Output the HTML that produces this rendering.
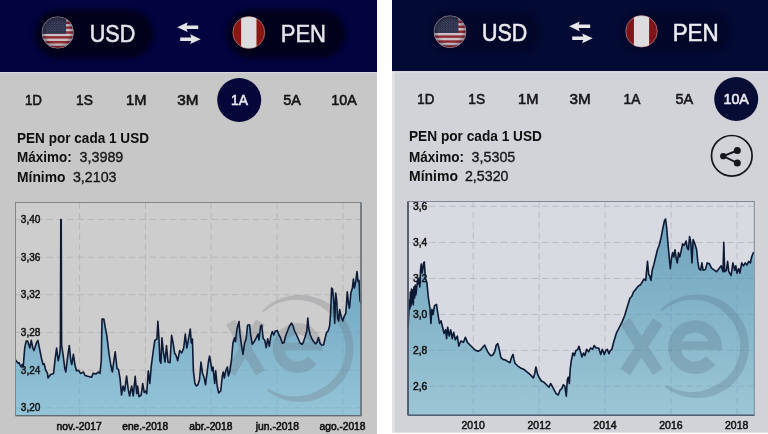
<!DOCTYPE html>
<html><head><meta charset="utf-8"><title>USD / PEN</title>
<style>
html,body{margin:0;padding:0;background:#fff;}
body{width:768px;height:434px;overflow:hidden;font-family:"Liberation Sans",sans-serif;}
svg{display:block;}
</style></head><body>
<svg width="768" height="434" viewBox="0 0 768 434" font-family="'Liberation Sans', sans-serif">
<defs>
<filter id="blur3" color-interpolation-filters="sRGB" x="-20%" y="-40%" width="140%" height="180%"><feGaussianBlur stdDeviation="2.5"/></filter>
<filter id="soft" color-interpolation-filters="sRGB" filterUnits="userSpaceOnUse" x="-10" y="-10" width="788" height="454"><feGaussianBlur stdDeviation="0.45"/></filter>
<linearGradient id="gl" gradientUnits="userSpaceOnUse" x1="0" y1="290" x2="0" y2="416"><stop offset="0" stop-color="#74aac5"/><stop offset="1" stop-color="#95c4d7"/></linearGradient>
<linearGradient id="gr" gradientUnits="userSpaceOnUse" x1="0" y1="225" x2="0" y2="415"><stop offset="0" stop-color="#70a5be"/><stop offset="1" stop-color="#9cc6d5"/></linearGradient>
</defs>
<rect width="768" height="434" fill="#ffffff"/>
<g filter="url(#soft)">
<rect x="-8" y="-8" width="385" height="450" fill="#c7c7c7"/>
<rect x="-8" y="-8" width="385" height="80" fill="#03033f"/>
<rect x="-8" y="72" width="385" height="1.2" fill="#d6d6de"/>
<rect x="34.5" y="10" width="119" height="48" rx="24" fill="#01011c" filter="url(#blur3)"/>
<rect x="226.5" y="10" width="119" height="48" rx="24" fill="#01011c" filter="url(#blur3)"/>
<clipPath id="cu1"><circle cx="57.8" cy="32.5" r="15.8"/></clipPath>
<pattern id="cu1s" x="42.0" y="16.7" width="2.6" height="2.4" patternUnits="userSpaceOnUse"><circle cx="0.7" cy="0.7" r="0.5" fill="#6c6e88"/><circle cx="2" cy="1.9" r="0.5" fill="#6c6e88"/></pattern>
<radialGradient id="cu1v" cx="0.5" cy="0.5" r="0.5"><stop offset="0.7" stop-color="#000010" stop-opacity="0"/><stop offset="1" stop-color="#000010" stop-opacity="0.35"/></radialGradient>
<g clip-path="url(#cu1)">
<rect x="42.0" y="16.7" width="31.6" height="31.6" fill="#cbbfc6"/>
<rect x="42.0" y="16.70" width="31.6" height="2.43" fill="#8e2a32"/>
<rect x="42.0" y="21.56" width="31.6" height="2.43" fill="#8e2a32"/>
<rect x="42.0" y="26.42" width="31.6" height="2.43" fill="#8e2a32"/>
<rect x="42.0" y="31.28" width="31.6" height="2.43" fill="#8e2a32"/>
<rect x="42.0" y="36.15" width="31.6" height="2.43" fill="#8e2a32"/>
<rect x="42.0" y="41.01" width="31.6" height="2.43" fill="#8e2a32"/>
<rect x="42.0" y="45.87" width="31.6" height="2.43" fill="#8e2a32"/>
<rect x="42.0" y="16.7" width="24.02" height="17.02" fill="#22253f"/>
<rect x="42.0" y="16.7" width="24.02" height="17.02" fill="url(#cu1s)"/>
<circle cx="57.8" cy="32.5" r="15.8" fill="url(#cu1v)"/>
</g>
<circle cx="57.8" cy="32.5" r="15.8" fill="none" stroke="#c9b4bc" stroke-opacity="0.5" stroke-width="0.8"/>
<clipPath id="cp1"><circle cx="248.8" cy="32.5" r="16"/></clipPath>
<g clip-path="url(#cp1)">
<rect x="232.8" y="16.5" width="32" height="32" fill="#8a1712"/>
<rect x="241.12" y="16.5" width="15.36" height="32" fill="#dcdcde"/>
</g>
<circle cx="248.8" cy="32.5" r="16" fill="none" stroke="#d9a0a0" stroke-opacity="0.7" stroke-width="0.8"/>
<text x="89.7" y="41.7" font-size="23.5" fill="#e3e3ea" font-weight="normal" text-anchor="start" textLength="45.6" lengthAdjust="spacingAndGlyphs" stroke="#e3e3ea" stroke-width="0.55" >USD</text>
<text x="280.7" y="42" font-size="23.5" fill="#e3e3ea" font-weight="normal" text-anchor="start" textLength="45.3" lengthAdjust="spacingAndGlyphs" stroke="#e3e3ea" stroke-width="0.55" >PEN</text>
<path d="M177.2,27.2 L187.7,22.299999999999997 L186.7,25.5 L198.2,25.5 L198.2,28.9 L186.7,28.9 L187.7,32.1 Z" fill="#e4e4e6"/>
<path d="M200.7,39.2 L190.2,34.300000000000004 L191.2,37.5 L180.2,37.5 L180.2,40.900000000000006 L191.2,40.900000000000006 L190.2,44.1 Z" fill="#e4e4e6"/>
<circle cx="239.2" cy="100" r="22" fill="#06063a"/>
<text x="24.95" y="105.3" font-size="15" fill="#141414" font-weight="normal" text-anchor="start" textLength="17.1" lengthAdjust="spacingAndGlyphs" stroke="#141414" stroke-width="0.6" >1D</text>
<text x="76.1" y="105.3" font-size="15" fill="#141414" font-weight="normal" text-anchor="start" textLength="16.8" lengthAdjust="spacingAndGlyphs" stroke="#141414" stroke-width="0.6" >1S</text>
<text x="126.10000000000001" y="105.3" font-size="15" fill="#141414" font-weight="normal" text-anchor="start" textLength="20.4" lengthAdjust="spacingAndGlyphs" stroke="#141414" stroke-width="0.6" >1M</text>
<text x="177.20000000000002" y="105.3" font-size="15" fill="#141414" font-weight="normal" text-anchor="start" textLength="21.2" lengthAdjust="spacingAndGlyphs" stroke="#141414" stroke-width="0.6" >3M</text>
<text x="231.1" y="105.3" font-size="15" fill="#e8e8ee" font-weight="normal" text-anchor="start" textLength="16.8" lengthAdjust="spacingAndGlyphs" stroke="#e8e8ee" stroke-width="0.6" >1A</text>
<text x="283.15" y="105.3" font-size="15" fill="#141414" font-weight="normal" text-anchor="start" textLength="17.7" lengthAdjust="spacingAndGlyphs" stroke="#141414" stroke-width="0.6" >5A</text>
<text x="331.3" y="105.3" font-size="15" fill="#141414" font-weight="normal" text-anchor="start" textLength="25.4" lengthAdjust="spacingAndGlyphs" stroke="#141414" stroke-width="0.6" >10A</text>
<text x="17" y="142.9" font-size="14.6" fill="#0e0e0e" font-weight="bold" text-anchor="start" textLength="132" lengthAdjust="spacingAndGlyphs" >PEN por cada 1 USD</text>
<text x="17" y="162.1" font-size="14.6" fill="#0e0e0e" font-weight="bold" text-anchor="start" textLength="54.7" lengthAdjust="spacingAndGlyphs" >Máximo:</text>
<text x="79.6" y="162.1" font-size="14.6" fill="#161616" font-weight="normal" text-anchor="start" textLength="43.7" lengthAdjust="spacingAndGlyphs" stroke="#161616" stroke-width="0.35" >3,3989</text>
<text x="17" y="181.8" font-size="14.6" fill="#0e0e0e" font-weight="bold" text-anchor="start" textLength="48.5" lengthAdjust="spacingAndGlyphs" >Mínimo</text>
<text x="72.9" y="181.8" font-size="14.6" fill="#161616" font-weight="normal" text-anchor="start" textLength="43.6" lengthAdjust="spacingAndGlyphs" stroke="#161616" stroke-width="0.35" >3,2103</text>
<rect x="15.5" y="202.5" width="345.5" height="213.2" fill="#cdcdcd" stroke="none"/>
<line x1="15.5" y1="219.5" x2="361" y2="219.5" stroke="#b7b7b7" stroke-width="1" stroke-dasharray="6.6,3.7"/>
<line x1="15.5" y1="257.2" x2="361" y2="257.2" stroke="#b7b7b7" stroke-width="1" stroke-dasharray="6.6,3.7"/>
<line x1="15.5" y1="294.8" x2="361" y2="294.8" stroke="#b7b7b7" stroke-width="1" stroke-dasharray="6.6,3.7"/>
<line x1="15.5" y1="332.4" x2="361" y2="332.4" stroke="#b7b7b7" stroke-width="1" stroke-dasharray="6.6,3.7"/>
<line x1="15.5" y1="370.1" x2="361" y2="370.1" stroke="#b7b7b7" stroke-width="1" stroke-dasharray="6.6,3.7"/>
<line x1="15.5" y1="407.8" x2="361" y2="407.8" stroke="#b7b7b7" stroke-width="1" stroke-dasharray="6.6,3.7"/>
<line x1="79.6" y1="202.5" x2="79.6" y2="415.7" stroke="#b7b7b7" stroke-width="1" stroke-dasharray="6.6,3.7"/>
<line x1="145.4" y1="202.5" x2="145.4" y2="415.7" stroke="#b7b7b7" stroke-width="1" stroke-dasharray="6.6,3.7"/>
<line x1="211.2" y1="202.5" x2="211.2" y2="415.7" stroke="#b7b7b7" stroke-width="1" stroke-dasharray="6.6,3.7"/>
<line x1="277.1" y1="202.5" x2="277.1" y2="415.7" stroke="#b7b7b7" stroke-width="1" stroke-dasharray="6.6,3.7"/>
<line x1="343" y1="202.5" x2="343" y2="415.7" stroke="#b7b7b7" stroke-width="1" stroke-dasharray="6.6,3.7"/>
<defs><path id="fpl" d="M15.6,360.0 L18.1,363.2 L19.1,362.7 L20.6,366.3 L22.2,364.5 L23.2,367.0 L24.7,348.0 L26.2,341.0 L27.7,341.0 L29.8,348.0 L31.3,340.4 L32.8,348.0 L34.0,350.6 L36.4,343.0 L37.9,340.4 L39.4,348.0 L41.4,358.0 L43.0,364.5 L44.2,363.7 L45.5,369.6 L47.5,373.4 L48.0,378.0 L50.6,374.6 L53.6,373.4 L55.1,359.4 L56.6,348.0 L58.2,360.7 L59.7,354.4 L60.4,345.0 L60.8,219.5 L61.2,219.5 L61.6,345.0 L63.2,355.6 L64.8,368.3 L65.8,372.0 L67.8,355.6 L69.3,345.5 L70.8,360.7 L71.8,364.5 L73.4,354.4 L74.9,364.5 L76.4,370.8 L78.4,370.3 L80.5,373.4 L83.5,372.1 L85.0,375.4 L88.6,376.4 L91.6,377.2 L93.1,373.4 L96.2,373.9 L98.2,372.0 L100.0,373.4 L101.3,360.7 L102.0,319.0 L103.8,319.0 L105.3,327.7 L106.8,335.3 L108.9,353.0 L110.9,365.8 L112.4,372.0 L113.9,360.7 L115.2,351.8 L117.0,368.3 L118.5,369.6 L120.0,378.4 L121.5,395.0 L123.0,386.0 L124.6,391.0 L126.6,376.0 L128.1,388.6 L129.6,396.0 L131.7,386.0 L133.2,396.0 L135.2,376.4 L136.7,393.6 L137.6,386.0 L139.0,396.7 L141.2,395.0 L142.7,383.5 L144.2,392.4 L145.7,391.0 L146.7,393.6 L148.3,370.8 L149.8,383.5 L151.3,365.8 L153.3,350.6 L154.8,340.4 L156.9,339.0 L157.9,321.4 L158.9,337.9 L159.9,360.7 L160.9,363.2 L161.9,337.9 L163.5,353.0 L165.0,362.0 L166.5,345.5 L168.0,362.0 L170.0,362.7 L171.6,335.3 L173.1,343.0 L174.6,353.0 L176.1,355.6 L177.7,360.7 L179.7,350.6 L181.7,353.0 L183.7,348.0 L185.3,334.0 L186.8,348.0 L188.3,340.4 L190.3,329.0 L191.3,343.0 L192.4,339.0 L193.4,370.8 L194.9,383.5 L196.4,386.0 L197.9,384.8 L199.5,379.7 L201.0,362.0 L202.5,373.4 L204.0,377.2 L205.5,384.8 L207.0,373.4 L208.6,360.7 L209.6,356.0 L211.0,364.5 L212.1,370.8 L213.0,367.0 L214.7,383.5 L215.7,370.8 L217.2,386.0 L218.7,393.0 L220.7,391.0 L222.3,376.0 L223.3,372.0 L224.3,378.0 L225.8,370.8 L227.3,367.0 L228.4,376.0 L229.9,370.8 L231.4,360.7 L232.9,343.0 L234.4,337.9 L235.4,341.7 L237.0,329.0 L239.0,321.4 L240.0,334.0 L241.5,345.5 L243.0,354.4 L244.6,343.0 L246.1,339.0 L247.6,325.2 L249.6,324.7 L250.7,335.3 L252.2,344.2 L254.2,341.7 L256.2,337.9 L258.0,334.0 L259.0,340.0 L260.6,326.0 L261.7,325.0 L263.2,338.7 L264.7,340.0 L266.2,347.6 L267.7,338.7 L269.3,346.3 L270.8,336.2 L272.3,331.6 L273.8,335.0 L275.3,331.0 L277.4,330.6 L278.9,335.0 L280.4,337.5 L282.4,343.3 L284.0,342.5 L285.5,336.2 L287.5,331.0 L289.5,326.0 L291.6,323.0 L293.1,326.0 L294.6,331.0 L296.6,335.0 L298.2,338.7 L300.2,343.3 L302.2,344.3 L303.7,341.3 L305.3,336.2 L306.8,331.0 L307.8,318.0 L308.8,328.6 L310.3,335.0 L311.9,338.7 L313.4,341.3 L315.4,343.8 L316.9,342.5 L318.4,337.5 L320.0,343.3 L321.5,345.0 L323.5,345.0 L325.0,338.7 L326.6,332.4 L328.1,331.0 L329.6,326.0 L330.6,313.4 L331.6,288.0 L332.6,289.3 L333.7,300.7 L334.7,323.5 L335.7,293.0 L336.7,300.7 L337.7,318.4 L338.7,321.0 L339.7,309.6 L341.3,317.2 L342.8,321.0 L344.3,316.0 L345.8,313.4 L347.3,291.8 L348.4,303.2 L349.4,308.3 L350.9,293.0 L352.4,288.0 L353.4,279.0 L354.4,288.0 L355.5,283.0 L357.0,271.5 L358.0,281.7 L359.0,280.4 L360.0,300.7 L361.0,303.2 L361,415.7 L15.5,415.7 Z"/><clipPath id="cfl"><use href="#fpl"/></clipPath></defs>
<use href="#fpl" fill="url(#gl)"/>
<g clip-path="url(#cfl)" stroke="#5f8aa2" stroke-opacity="0.2" stroke-width="1" stroke-dasharray="6.6,3.7">
<line x1="15.5" y1="219.5" x2="361" y2="219.5"/>
<line x1="15.5" y1="257.2" x2="361" y2="257.2"/>
<line x1="15.5" y1="294.8" x2="361" y2="294.8"/>
<line x1="15.5" y1="332.4" x2="361" y2="332.4"/>
<line x1="15.5" y1="370.1" x2="361" y2="370.1"/>
<line x1="15.5" y1="407.8" x2="361" y2="407.8"/>
<line x1="79.6" y1="202.5" x2="79.6" y2="415.7"/>
<line x1="145.4" y1="202.5" x2="145.4" y2="415.7"/>
<line x1="211.2" y1="202.5" x2="211.2" y2="415.7"/>
<line x1="277.1" y1="202.5" x2="277.1" y2="415.7"/>
<line x1="343" y1="202.5" x2="343" y2="415.7"/>
</g>
<g opacity="0.23" fill="none" stroke="#66666e" stroke-linecap="butt">
<path d="M262.2,310.7 L265.2,307.9 L268.4,305.3 L271.8,303.1 L275.3,301.0 L279.0,299.3 L282.8,297.8 L286.8,296.7 L290.8,295.8 L294.8,295.3 L298.9,295.0 L303.0,295.1 L307.1,295.5 L311.1,296.2 L315.1,297.2 L319.0,298.5 L322.7,300.1 L326.4,301.9 L329.8,304.1 L333.1,306.5 L336.3,309.2 L339.2,312.0 L341.8,315.1 L344.3,318.4 L346.4,321.9 L348.3,325.5 L349.9,329.3 L351.3,333.2 L352.3,337.1 L353.0,341.2 L353.4,345.2 L353.5,349.3 L353.3,353.4 L352.7,357.5 L351.9,361.5 L350.8,365.4 L349.3,369.2 L347.6,372.9 L345.6,376.5 L343.3,379.9 L340.8,383.1 L338.0,386.1 L335.0,388.9 L331.8,391.5 L328.5,393.8 L324.9,395.8 L321.2,397.6 L317.4,399.1 L313.5,400.3 L309.5,401.2 L305.4,401.7 L301.4,402.0 L297.3,401.9 L293.2,401.6 L289.2,400.9 L285.2,399.9 L281.3,398.6 L277.5,397.0 L273.9,395.2 L270.4,393.1 L267.1,390.7 L268.5,388.8 L271.9,390.7 L275.4,392.4 L279.0,393.8 L282.7,394.9 L286.4,395.7 L290.1,396.2 L293.8,396.4 L297.5,396.3 L301.2,396.0 L304.8,395.4 L308.3,394.5 L311.7,393.3 L314.9,391.9 L318.0,390.3 L321.2,388.8 L324.2,387.0 L327.1,385.1 L329.8,382.9 L332.3,380.5 L334.7,377.9 L336.8,375.2 L338.8,372.3 L340.5,369.3 L341.9,366.1 L343.2,362.9 L344.1,359.5 L344.9,356.1 L345.3,352.7 L345.5,349.2 L345.4,345.7 L345.1,342.3 L344.5,338.8 L343.6,335.5 L342.5,332.2 L341.1,329.0 L339.5,325.9 L337.6,322.9 L335.6,320.1 L333.3,317.5 L330.9,314.9 L328.5,312.4 L325.8,310.1 L322.9,308.0 L319.9,306.1 L316.7,304.5 L313.4,303.0 L309.9,301.9 L306.3,300.9 L302.7,300.3 L299.0,299.9 L295.3,299.9 L291.5,300.1 L287.8,300.6 L284.1,301.4 L280.4,302.5 L276.8,303.8 L273.3,305.5 L269.9,307.4 L266.7,309.6 L263.6,312.1 Z" fill="#66666e" stroke="none"/>
<path d="M230.5,322 L260.5,373 M260.5,322 L230.5,373" stroke-width="10.5"/>
<path d="M316.6,350.3 A19.1,19.1 0 1 0 312.3,360.2" stroke-width="11.5"/>
<rect x="278.6" y="342.5" width="43.2" height="7.8" fill="#66666e" stroke="none"/>
</g>
<text x="20.8" y="222.9" font-size="10.3" fill="#111" font-weight="normal" text-anchor="start" textLength="19.6" lengthAdjust="spacingAndGlyphs" stroke="#111" stroke-width="0.45" >3,40</text>
<text x="20.8" y="260.59999999999997" font-size="10.3" fill="#111" font-weight="normal" text-anchor="start" textLength="19.6" lengthAdjust="spacingAndGlyphs" stroke="#111" stroke-width="0.45" >3,36</text>
<text x="20.8" y="298.2" font-size="10.3" fill="#111" font-weight="normal" text-anchor="start" textLength="19.6" lengthAdjust="spacingAndGlyphs" stroke="#111" stroke-width="0.45" >3,32</text>
<text x="20.8" y="335.79999999999995" font-size="10.3" fill="#111" font-weight="normal" text-anchor="start" textLength="19.6" lengthAdjust="spacingAndGlyphs" stroke="#111" stroke-width="0.45" >3,28</text>
<text x="20.8" y="373.5" font-size="10.3" fill="#111" font-weight="normal" text-anchor="start" textLength="19.6" lengthAdjust="spacingAndGlyphs" stroke="#111" stroke-width="0.45" >3,24</text>
<text x="20.8" y="411.2" font-size="10.3" fill="#111" font-weight="normal" text-anchor="start" textLength="19.6" lengthAdjust="spacingAndGlyphs" stroke="#111" stroke-width="0.45" >3,20</text>
<path d="M15.6,360.0 L18.1,363.2 L19.1,362.7 L20.6,366.3 L22.2,364.5 L23.2,367.0 L24.7,348.0 L26.2,341.0 L27.7,341.0 L29.8,348.0 L31.3,340.4 L32.8,348.0 L34.0,350.6 L36.4,343.0 L37.9,340.4 L39.4,348.0 L41.4,358.0 L43.0,364.5 L44.2,363.7 L45.5,369.6 L47.5,373.4 L48.0,378.0 L50.6,374.6 L53.6,373.4 L55.1,359.4 L56.6,348.0 L58.2,360.7 L59.7,354.4 L60.4,345.0 L60.8,219.5 L61.2,219.5 L61.6,345.0 L63.2,355.6 L64.8,368.3 L65.8,372.0 L67.8,355.6 L69.3,345.5 L70.8,360.7 L71.8,364.5 L73.4,354.4 L74.9,364.5 L76.4,370.8 L78.4,370.3 L80.5,373.4 L83.5,372.1 L85.0,375.4 L88.6,376.4 L91.6,377.2 L93.1,373.4 L96.2,373.9 L98.2,372.0 L100.0,373.4 L101.3,360.7 L102.0,319.0 L103.8,319.0 L105.3,327.7 L106.8,335.3 L108.9,353.0 L110.9,365.8 L112.4,372.0 L113.9,360.7 L115.2,351.8 L117.0,368.3 L118.5,369.6 L120.0,378.4 L121.5,395.0 L123.0,386.0 L124.6,391.0 L126.6,376.0 L128.1,388.6 L129.6,396.0 L131.7,386.0 L133.2,396.0 L135.2,376.4 L136.7,393.6 L137.6,386.0 L139.0,396.7 L141.2,395.0 L142.7,383.5 L144.2,392.4 L145.7,391.0 L146.7,393.6 L148.3,370.8 L149.8,383.5 L151.3,365.8 L153.3,350.6 L154.8,340.4 L156.9,339.0 L157.9,321.4 L158.9,337.9 L159.9,360.7 L160.9,363.2 L161.9,337.9 L163.5,353.0 L165.0,362.0 L166.5,345.5 L168.0,362.0 L170.0,362.7 L171.6,335.3 L173.1,343.0 L174.6,353.0 L176.1,355.6 L177.7,360.7 L179.7,350.6 L181.7,353.0 L183.7,348.0 L185.3,334.0 L186.8,348.0 L188.3,340.4 L190.3,329.0 L191.3,343.0 L192.4,339.0 L193.4,370.8 L194.9,383.5 L196.4,386.0 L197.9,384.8 L199.5,379.7 L201.0,362.0 L202.5,373.4 L204.0,377.2 L205.5,384.8 L207.0,373.4 L208.6,360.7 L209.6,356.0 L211.0,364.5 L212.1,370.8 L213.0,367.0 L214.7,383.5 L215.7,370.8 L217.2,386.0 L218.7,393.0 L220.7,391.0 L222.3,376.0 L223.3,372.0 L224.3,378.0 L225.8,370.8 L227.3,367.0 L228.4,376.0 L229.9,370.8 L231.4,360.7 L232.9,343.0 L234.4,337.9 L235.4,341.7 L237.0,329.0 L239.0,321.4 L240.0,334.0 L241.5,345.5 L243.0,354.4 L244.6,343.0 L246.1,339.0 L247.6,325.2 L249.6,324.7 L250.7,335.3 L252.2,344.2 L254.2,341.7 L256.2,337.9 L258.0,334.0 L259.0,340.0 L260.6,326.0 L261.7,325.0 L263.2,338.7 L264.7,340.0 L266.2,347.6 L267.7,338.7 L269.3,346.3 L270.8,336.2 L272.3,331.6 L273.8,335.0 L275.3,331.0 L277.4,330.6 L278.9,335.0 L280.4,337.5 L282.4,343.3 L284.0,342.5 L285.5,336.2 L287.5,331.0 L289.5,326.0 L291.6,323.0 L293.1,326.0 L294.6,331.0 L296.6,335.0 L298.2,338.7 L300.2,343.3 L302.2,344.3 L303.7,341.3 L305.3,336.2 L306.8,331.0 L307.8,318.0 L308.8,328.6 L310.3,335.0 L311.9,338.7 L313.4,341.3 L315.4,343.8 L316.9,342.5 L318.4,337.5 L320.0,343.3 L321.5,345.0 L323.5,345.0 L325.0,338.7 L326.6,332.4 L328.1,331.0 L329.6,326.0 L330.6,313.4 L331.6,288.0 L332.6,289.3 L333.7,300.7 L334.7,323.5 L335.7,293.0 L336.7,300.7 L337.7,318.4 L338.7,321.0 L339.7,309.6 L341.3,317.2 L342.8,321.0 L344.3,316.0 L345.8,313.4 L347.3,291.8 L348.4,303.2 L349.4,308.3 L350.9,293.0 L352.4,288.0 L353.4,279.0 L354.4,288.0 L355.5,283.0 L357.0,271.5 L358.0,281.7 L359.0,280.4 L360.0,300.7 L361.0,303.2" fill="none" stroke="#0e1a36" stroke-width="1.6" stroke-linejoin="round"/>
<rect x="15.5" y="202.5" width="345.5" height="213.2" fill="none" stroke="#858585" stroke-width="1"/>
<path d="M361,202.5 L361,415.7 L15.5,415.7" fill="none" stroke="#5e6a74" stroke-width="1.3"/>
<text x="56.6" y="429.7" font-size="10" fill="#111" font-weight="normal" text-anchor="start" textLength="45.3" lengthAdjust="spacingAndGlyphs" stroke="#111" stroke-width="0.55" >nov.-2017</text>
<text x="122.3" y="429.7" font-size="10" fill="#111" font-weight="normal" text-anchor="start" textLength="45.8" lengthAdjust="spacingAndGlyphs" stroke="#111" stroke-width="0.55" >ene.-2018</text>
<text x="189.3" y="429.7" font-size="10" fill="#111" font-weight="normal" text-anchor="start" textLength="43.1" lengthAdjust="spacingAndGlyphs" stroke="#111" stroke-width="0.55" >abr.-2018</text>
<text x="255.8" y="429.7" font-size="10" fill="#111" font-weight="normal" text-anchor="start" textLength="43.1" lengthAdjust="spacingAndGlyphs" stroke="#111" stroke-width="0.55" >jun.-2018</text>
<text x="319.6" y="429.7" font-size="10" fill="#111" font-weight="normal" text-anchor="start" textLength="45.8" lengthAdjust="spacingAndGlyphs" stroke="#111" stroke-width="0.55" >ago.-2018</text>
<rect x="392" y="-8" width="384" height="450" fill="#d1d3d9"/>
<rect x="392" y="-8" width="384" height="79.2" fill="#030a33"/>
<rect x="392" y="71.2" width="384" height="1.2" fill="#dfe0ea"/>
<rect x="432" y="11" width="108" height="42" rx="21" fill="#02072a" filter="url(#blur3)"/>
<rect x="622" y="11" width="108" height="42" rx="21" fill="#02072a" filter="url(#blur3)"/>
<clipPath id="cu2"><circle cx="450" cy="31.7" r="16"/></clipPath>
<pattern id="cu2s" x="434" y="15.7" width="2.6" height="2.4" patternUnits="userSpaceOnUse"><circle cx="0.7" cy="0.7" r="0.5" fill="#6c6e88"/><circle cx="2" cy="1.9" r="0.5" fill="#6c6e88"/></pattern>
<radialGradient id="cu2v" cx="0.5" cy="0.5" r="0.5"><stop offset="0.7" stop-color="#000010" stop-opacity="0"/><stop offset="1" stop-color="#000010" stop-opacity="0.35"/></radialGradient>
<g clip-path="url(#cu2)">
<rect x="434" y="15.7" width="32" height="32" fill="#cbbfc6"/>
<rect x="434" y="15.70" width="32" height="2.46" fill="#8e2a32"/>
<rect x="434" y="20.62" width="32" height="2.46" fill="#8e2a32"/>
<rect x="434" y="25.55" width="32" height="2.46" fill="#8e2a32"/>
<rect x="434" y="30.47" width="32" height="2.46" fill="#8e2a32"/>
<rect x="434" y="35.39" width="32" height="2.46" fill="#8e2a32"/>
<rect x="434" y="40.32" width="32" height="2.46" fill="#8e2a32"/>
<rect x="434" y="45.24" width="32" height="2.46" fill="#8e2a32"/>
<rect x="434" y="15.7" width="24.32" height="17.23" fill="#22253f"/>
<rect x="434" y="15.7" width="24.32" height="17.23" fill="url(#cu2s)"/>
<circle cx="450" cy="31.7" r="16" fill="url(#cu2v)"/>
</g>
<circle cx="450" cy="31.7" r="16" fill="none" stroke="#c9b4bc" stroke-opacity="0.5" stroke-width="0.8"/>
<clipPath id="cp2"><circle cx="641.5" cy="31.3" r="15.8"/></clipPath>
<g clip-path="url(#cp2)">
<rect x="625.7" y="15.5" width="31.6" height="31.6" fill="#7e151a"/>
<rect x="633.92" y="15.5" width="15.17" height="31.6" fill="#dcdcde"/>
</g>
<circle cx="641.5" cy="31.3" r="15.8" fill="none" stroke="#d9a0a0" stroke-opacity="0.7" stroke-width="0.8"/>
<text x="482" y="41.3" font-size="23.5" fill="#ececf2" font-weight="normal" text-anchor="start" textLength="45.2" lengthAdjust="spacingAndGlyphs" stroke="#ececf2" stroke-width="0.55" >USD</text>
<text x="672.7" y="41.1" font-size="23.5" fill="#ececf2" font-weight="normal" text-anchor="start" textLength="45.9" lengthAdjust="spacingAndGlyphs" stroke="#ececf2" stroke-width="0.55" >PEN</text>
<path d="M569.2,26.3 L579.7,21.4 L578.7,24.6 L590.2,24.6 L590.2,28.0 L578.7,28.0 L579.7,31.200000000000003 Z" fill="#e8e8ec"/>
<path d="M592.7,38.3 L582.2,33.4 L583.2,36.599999999999994 L572.2,36.599999999999994 L572.2,40.0 L583.2,40.0 L582.2,43.199999999999996 Z" fill="#e8e8ec"/>
<circle cx="736.2" cy="99" r="22" fill="#070c34"/>
<text x="417.34999999999997" y="104.4" font-size="15" fill="#15151a" font-weight="normal" text-anchor="start" textLength="17.1" lengthAdjust="spacingAndGlyphs" stroke="#15151a" stroke-width="0.6" >1D</text>
<text x="468.3" y="104.4" font-size="15" fill="#15151a" font-weight="normal" text-anchor="start" textLength="16.8" lengthAdjust="spacingAndGlyphs" stroke="#15151a" stroke-width="0.6" >1S</text>
<text x="518.0999999999999" y="104.4" font-size="15" fill="#15151a" font-weight="normal" text-anchor="start" textLength="20.4" lengthAdjust="spacingAndGlyphs" stroke="#15151a" stroke-width="0.6" >1M</text>
<text x="569.4" y="104.4" font-size="15" fill="#15151a" font-weight="normal" text-anchor="start" textLength="21.2" lengthAdjust="spacingAndGlyphs" stroke="#15151a" stroke-width="0.6" >3M</text>
<text x="623.6" y="104.4" font-size="15" fill="#15151a" font-weight="normal" text-anchor="start" textLength="16.8" lengthAdjust="spacingAndGlyphs" stroke="#15151a" stroke-width="0.6" >1A</text>
<text x="675.4499999999999" y="104.4" font-size="15" fill="#15151a" font-weight="normal" text-anchor="start" textLength="17.7" lengthAdjust="spacingAndGlyphs" stroke="#15151a" stroke-width="0.6" >5A</text>
<text x="723.5" y="104.4" font-size="15" fill="#ececf2" font-weight="normal" text-anchor="start" textLength="25.4" lengthAdjust="spacingAndGlyphs" stroke="#ececf2" stroke-width="0.6" >10A</text>
<text x="409" y="141.2" font-size="14.6" fill="#0e0e0e" font-weight="bold" text-anchor="start" textLength="133" lengthAdjust="spacingAndGlyphs" >PEN por cada 1 USD</text>
<text x="409" y="161.8" font-size="14.6" fill="#0e0e0e" font-weight="bold" text-anchor="start" textLength="55" lengthAdjust="spacingAndGlyphs" >Máximo:</text>
<text x="471.6" y="161.8" font-size="14.6" fill="#161616" font-weight="normal" text-anchor="start" textLength="43.7" lengthAdjust="spacingAndGlyphs" stroke="#161616" stroke-width="0.35" >3,5305</text>
<text x="409" y="181" font-size="14.6" fill="#0e0e0e" font-weight="bold" text-anchor="start" textLength="49" lengthAdjust="spacingAndGlyphs" >Mínimo</text>
<text x="464.9" y="181" font-size="14.6" fill="#161616" font-weight="normal" text-anchor="start" textLength="43.6" lengthAdjust="spacingAndGlyphs" stroke="#161616" stroke-width="0.35" >2,5320</text>
<circle cx="731.8" cy="155.8" r="20.3" fill="none" stroke="#15151c" stroke-width="1.7"/>
<path d="M723.2,156.2 L737.3,150.5 M723.2,156.2 L737.3,163" stroke="#15151c" stroke-width="1.9" fill="none"/>
<circle cx="723.2" cy="156.2" r="3.1" fill="#15151c"/>
<circle cx="737.3" cy="150.5" r="3.5" fill="#15151c"/>
<circle cx="737.3" cy="163" r="3.5" fill="#15151c"/>
<rect x="408" y="201.5" width="346.29999999999995" height="213.7" fill="#d8dae1"/>
<line x1="408" y1="206.3" x2="754.3" y2="206.3" stroke="#bbbec7" stroke-width="1" stroke-dasharray="6.6,3.7"/>
<line x1="408" y1="242.5" x2="754.3" y2="242.5" stroke="#bbbec7" stroke-width="1" stroke-dasharray="6.6,3.7"/>
<line x1="408" y1="278.5" x2="754.3" y2="278.5" stroke="#bbbec7" stroke-width="1" stroke-dasharray="6.6,3.7"/>
<line x1="408" y1="314.5" x2="754.3" y2="314.5" stroke="#bbbec7" stroke-width="1" stroke-dasharray="6.6,3.7"/>
<line x1="408" y1="350.3" x2="754.3" y2="350.3" stroke="#bbbec7" stroke-width="1" stroke-dasharray="6.6,3.7"/>
<line x1="408" y1="386.2" x2="754.3" y2="386.2" stroke="#bbbec7" stroke-width="1" stroke-dasharray="6.6,3.7"/>
<line x1="473.2" y1="201.5" x2="473.2" y2="415.2" stroke="#bbbec7" stroke-width="1" stroke-dasharray="6.6,3.7"/>
<line x1="539.2" y1="201.5" x2="539.2" y2="415.2" stroke="#bbbec7" stroke-width="1" stroke-dasharray="6.6,3.7"/>
<line x1="605.1" y1="201.5" x2="605.1" y2="415.2" stroke="#bbbec7" stroke-width="1" stroke-dasharray="6.6,3.7"/>
<line x1="671.1" y1="201.5" x2="671.1" y2="415.2" stroke="#bbbec7" stroke-width="1" stroke-dasharray="6.6,3.7"/>
<line x1="737" y1="201.5" x2="737" y2="415.2" stroke="#bbbec7" stroke-width="1" stroke-dasharray="6.6,3.7"/>
<defs><path id="fpr" d="M408.1,327.2 L408.8,312.0 L409.4,300.0 L409.9,309.0 L410.4,292.0 L411.0,306.0 L411.5,289.0 L412.1,303.0 L412.7,290.0 L413.3,305.0 L413.9,287.0 L414.6,298.0 L415.2,285.0 L415.9,295.0 L416.7,288.0 L417.4,281.0 L418.3,284.0 L419.0,278.0 L419.8,287.0 L420.5,270.0 L421.3,264.0 L422.0,273.0 L422.8,269.0 L423.6,263.0 L424.3,262.0 L424.9,271.0 L425.3,277.7 L426.9,282.8 L428.4,298.0 L429.9,308.0 L430.9,323.4 L431.9,309.4 L433.0,314.5 L434.5,305.6 L436.5,304.4 L438.0,314.5 L439.5,323.4 L441.0,320.8 L442.6,327.2 L444.1,333.5 L445.6,329.7 L446.6,338.6 L447.7,327.2 L449.2,336.0 L450.7,329.7 L452.2,338.6 L453.7,332.2 L455.3,339.8 L457.3,336.0 L458.8,346.2 L460.8,341.0 L463.4,342.4 L465.4,337.3 L467.4,342.4 L470.0,345.0 L472.5,347.5 L475.0,350.0 L478.0,351.3 L480.6,350.0 L482.6,347.5 L484.7,345.0 L486.2,348.7 L488.2,352.5 L490.7,355.8 L492.8,355.0 L494.8,351.3 L496.3,345.0 L497.8,343.7 L499.4,350.0 L500.9,357.6 L502.9,359.4 L505.4,360.0 L507.5,361.4 L510.0,362.7 L511.5,357.6 L513.0,354.4 L514.0,359.4 L515.0,363.2 L517.6,365.8 L521.2,368.3 L524.2,369.6 L527.2,372.1 L530.3,374.6 L533.3,378.0 L534.8,373.4 L535.9,367.0 L537.4,373.4 L538.9,377.2 L541.4,381.0 L544.0,382.2 L546.5,384.8 L549.0,387.3 L550.6,383.5 L552.1,386.0 L554.1,389.8 L556.1,393.6 L558.2,395.0 L560.2,389.8 L561.7,388.6 L563.2,384.8 L564.8,386.0 L566.3,396.2 L567.3,379.7 L568.3,377.2 L569.3,383.5 L570.3,368.3 L571.3,360.7 L572.9,353.0 L574.4,355.6 L575.9,350.6 L577.9,349.3 L578.9,346.2 L580.5,351.8 L582.0,356.9 L583.5,353.0 L585.0,355.6 L586.6,349.3 L588.6,351.8 L590.6,348.0 L592.6,349.3 L594.2,345.5 L596.2,348.0 L598.7,348.0 L600.7,354.4 L602.3,349.3 L604.3,354.4 L605.8,350.6 L607.3,349.3 L608.9,353.6 L610.4,350.6 L611.9,349.3 L613.4,343.0 L614.9,337.9 L616.5,332.8 L618.5,329.0 L620.0,326.0 L622.3,321.4 L624.7,315.5 L626.4,309.7 L628.2,303.8 L630.0,298.0 L631.7,296.5 L633.5,292.0 L635.8,289.2 L638.1,286.3 L640.5,284.8 L642.2,282.0 L644.0,279.0 L645.7,280.4 L647.5,261.4 L648.7,274.6 L649.8,276.0 L651.0,280.4 L652.2,270.2 L653.9,264.3 L655.7,257.0 L657.4,249.7 L659.2,245.3 L661.0,238.0 L662.7,229.2 L664.5,220.5 L665.6,219.0 L666.8,229.2 L668.0,243.9 L669.1,255.6 L670.3,268.7 L671.5,258.5 L672.6,252.6 L673.8,257.0 L675.0,249.7 L676.2,258.5 L677.3,262.9 L678.5,252.6 L679.7,257.0 L680.8,252.6 L682.6,243.9 L684.3,245.3 L686.1,241.0 L687.3,248.3 L688.4,249.7 L689.6,236.6 L690.8,242.4 L692.0,262.9 L693.1,239.5 L694.9,243.9 L696.6,249.7 L697.8,261.4 L699.0,268.7 L700.7,270.2 L701.9,262.9 L703.1,270.2 L705.4,269.6 L707.2,262.9 L709.5,263.8 L711.3,267.9 L713.6,269.6 L716.5,271.7 L718.9,268.7 L721.2,265.8 L723.0,271.7 L723.8,242.4 L724.7,271.7 L726.4,270.2 L727.6,261.4 L728.8,271.7 L731.1,275.5 L732.9,262.9 L734.7,270.2 L735.8,265.8 L737.0,273.1 L738.7,268.7 L739.9,273.1 L741.7,262.9 L743.4,265.8 L745.2,262.9 L746.9,264.9 L748.7,261.4 L750.4,262.9 L751.6,257.0 L752.8,254.1 L753.7,252.0 L754.3,415.2 L408,415.2 Z"/><clipPath id="cfr"><use href="#fpr"/></clipPath></defs>
<use href="#fpr" fill="url(#gr)"/>
<g clip-path="url(#cfr)" stroke="#557f98" stroke-opacity="0.2" stroke-width="1" stroke-dasharray="6.6,3.7">
<line x1="408" y1="206.3" x2="754.3" y2="206.3"/>
<line x1="408" y1="242.5" x2="754.3" y2="242.5"/>
<line x1="408" y1="278.5" x2="754.3" y2="278.5"/>
<line x1="408" y1="314.5" x2="754.3" y2="314.5"/>
<line x1="408" y1="350.3" x2="754.3" y2="350.3"/>
<line x1="408" y1="386.2" x2="754.3" y2="386.2"/>
<line x1="473.2" y1="201.5" x2="473.2" y2="415.2"/>
<line x1="539.2" y1="201.5" x2="539.2" y2="415.2"/>
<line x1="605.1" y1="201.5" x2="605.1" y2="415.2"/>
<line x1="671.1" y1="201.5" x2="671.1" y2="415.2"/>
<line x1="737" y1="201.5" x2="737" y2="415.2"/>
</g>
<g opacity="0.23" fill="none" stroke="#4c6478" stroke-linecap="butt">
<path d="M660.4,309.7 L663.3,307.0 L666.4,304.5 L669.7,302.3 L673.1,300.3 L676.7,298.6 L680.4,297.2 L684.2,296.1 L688.1,295.3 L692.0,294.7 L695.9,294.5 L699.9,294.6 L703.9,295.0 L707.8,295.6 L711.6,296.6 L715.4,297.9 L719.0,299.4 L722.5,301.2 L725.9,303.3 L729.1,305.6 L732.1,308.2 L734.9,311.0 L737.5,314.0 L739.9,317.2 L742.0,320.6 L743.8,324.1 L745.3,327.7 L746.6,331.5 L747.6,335.3 L748.3,339.2 L748.7,343.1 L748.8,347.1 L748.6,351.1 L748.1,355.0 L747.3,358.9 L746.1,362.7 L744.8,366.4 L743.1,370.0 L741.1,373.4 L738.9,376.7 L736.5,379.8 L733.8,382.7 L730.9,385.5 L727.8,387.9 L724.6,390.2 L721.1,392.1 L717.5,393.9 L713.9,395.3 L710.1,396.4 L706.2,397.3 L702.3,397.8 L698.3,398.1 L694.3,398.0 L690.4,397.7 L686.5,397.0 L682.6,396.1 L678.9,394.8 L675.2,393.3 L671.7,391.5 L668.3,389.4 L665.1,387.1 L666.7,385.1 L670.0,386.9 L673.4,388.5 L676.9,389.8 L680.4,390.8 L684.0,391.5 L687.5,392.0 L691.1,392.1 L694.7,392.0 L698.1,391.6 L701.6,391.0 L704.9,390.1 L708.1,388.9 L711.2,387.6 L714.1,386.0 L717.1,384.5 L720.0,382.9 L722.7,381.0 L725.3,379.0 L727.7,376.7 L729.9,374.3 L732.0,371.7 L733.8,368.9 L735.4,366.0 L736.8,363.0 L738.0,359.9 L738.9,356.8 L739.6,353.5 L740.0,350.3 L740.2,347.0 L740.1,343.7 L739.8,340.4 L739.2,337.1 L738.4,333.9 L737.3,330.8 L736.0,327.8 L734.5,324.8 L732.7,322.0 L730.8,319.4 L728.6,316.9 L726.4,314.4 L724.0,312.0 L721.5,309.8 L718.8,307.8 L715.9,305.9 L712.9,304.3 L709.7,302.9 L706.5,301.7 L703.1,300.8 L699.6,300.2 L696.1,299.8 L692.5,299.7 L688.9,299.9 L685.3,300.3 L681.7,301.1 L678.2,302.1 L674.7,303.4 L671.3,304.9 L668.0,306.8 L664.9,308.9 L661.9,311.2 Z" fill="#4c6478" stroke="none"/>
<path d="M625.1,321.5 L657.9,372 M657.9,321.5 L625.1,372" stroke-width="11.5"/>
<path d="M715.4,349.8 A20.6,20.6 0 1 0 710.7,360.4" stroke-width="12.5"/>
<rect x="674.5" y="341.3" width="46.8" height="8.5" fill="#4c6478" stroke="none"/>
</g>
<text x="413" y="209.9" font-size="10.3" fill="#111" font-weight="normal" text-anchor="start" textLength="14.3" lengthAdjust="spacingAndGlyphs" stroke="#111" stroke-width="0.5" >3,6</text>
<text x="413" y="246.1" font-size="10.3" fill="#111" font-weight="normal" text-anchor="start" textLength="14.3" lengthAdjust="spacingAndGlyphs" stroke="#111" stroke-width="0.5" >3,4</text>
<text x="413" y="282.1" font-size="10.3" fill="#111" font-weight="normal" text-anchor="start" textLength="14.3" lengthAdjust="spacingAndGlyphs" stroke="#111" stroke-width="0.5" >3,2</text>
<text x="413" y="318.1" font-size="10.3" fill="#111" font-weight="normal" text-anchor="start" textLength="14.3" lengthAdjust="spacingAndGlyphs" stroke="#111" stroke-width="0.5" >3,0</text>
<text x="413" y="353.90000000000003" font-size="10.3" fill="#111" font-weight="normal" text-anchor="start" textLength="14.3" lengthAdjust="spacingAndGlyphs" stroke="#111" stroke-width="0.5" >2,8</text>
<text x="413" y="389.8" font-size="10.3" fill="#111" font-weight="normal" text-anchor="start" textLength="14.3" lengthAdjust="spacingAndGlyphs" stroke="#111" stroke-width="0.5" >2,6</text>
<path d="M408.1,327.2 L408.8,312.0 L409.4,300.0 L409.9,309.0 L410.4,292.0 L411.0,306.0 L411.5,289.0 L412.1,303.0 L412.7,290.0 L413.3,305.0 L413.9,287.0 L414.6,298.0 L415.2,285.0 L415.9,295.0 L416.7,288.0 L417.4,281.0 L418.3,284.0 L419.0,278.0 L419.8,287.0 L420.5,270.0 L421.3,264.0 L422.0,273.0 L422.8,269.0 L423.6,263.0 L424.3,262.0 L424.9,271.0 L425.3,277.7 L426.9,282.8 L428.4,298.0 L429.9,308.0 L430.9,323.4 L431.9,309.4 L433.0,314.5 L434.5,305.6 L436.5,304.4 L438.0,314.5 L439.5,323.4 L441.0,320.8 L442.6,327.2 L444.1,333.5 L445.6,329.7 L446.6,338.6 L447.7,327.2 L449.2,336.0 L450.7,329.7 L452.2,338.6 L453.7,332.2 L455.3,339.8 L457.3,336.0 L458.8,346.2 L460.8,341.0 L463.4,342.4 L465.4,337.3 L467.4,342.4 L470.0,345.0 L472.5,347.5 L475.0,350.0 L478.0,351.3 L480.6,350.0 L482.6,347.5 L484.7,345.0 L486.2,348.7 L488.2,352.5 L490.7,355.8 L492.8,355.0 L494.8,351.3 L496.3,345.0 L497.8,343.7 L499.4,350.0 L500.9,357.6 L502.9,359.4 L505.4,360.0 L507.5,361.4 L510.0,362.7 L511.5,357.6 L513.0,354.4 L514.0,359.4 L515.0,363.2 L517.6,365.8 L521.2,368.3 L524.2,369.6 L527.2,372.1 L530.3,374.6 L533.3,378.0 L534.8,373.4 L535.9,367.0 L537.4,373.4 L538.9,377.2 L541.4,381.0 L544.0,382.2 L546.5,384.8 L549.0,387.3 L550.6,383.5 L552.1,386.0 L554.1,389.8 L556.1,393.6 L558.2,395.0 L560.2,389.8 L561.7,388.6 L563.2,384.8 L564.8,386.0 L566.3,396.2 L567.3,379.7 L568.3,377.2 L569.3,383.5 L570.3,368.3 L571.3,360.7 L572.9,353.0 L574.4,355.6 L575.9,350.6 L577.9,349.3 L578.9,346.2 L580.5,351.8 L582.0,356.9 L583.5,353.0 L585.0,355.6 L586.6,349.3 L588.6,351.8 L590.6,348.0 L592.6,349.3 L594.2,345.5 L596.2,348.0 L598.7,348.0 L600.7,354.4 L602.3,349.3 L604.3,354.4 L605.8,350.6 L607.3,349.3 L608.9,353.6 L610.4,350.6 L611.9,349.3 L613.4,343.0 L614.9,337.9 L616.5,332.8 L618.5,329.0 L620.0,326.0 L622.3,321.4 L624.7,315.5 L626.4,309.7 L628.2,303.8 L630.0,298.0 L631.7,296.5 L633.5,292.0 L635.8,289.2 L638.1,286.3 L640.5,284.8 L642.2,282.0 L644.0,279.0 L645.7,280.4 L647.5,261.4 L648.7,274.6 L649.8,276.0 L651.0,280.4 L652.2,270.2 L653.9,264.3 L655.7,257.0 L657.4,249.7 L659.2,245.3 L661.0,238.0 L662.7,229.2 L664.5,220.5 L665.6,219.0 L666.8,229.2 L668.0,243.9 L669.1,255.6 L670.3,268.7 L671.5,258.5 L672.6,252.6 L673.8,257.0 L675.0,249.7 L676.2,258.5 L677.3,262.9 L678.5,252.6 L679.7,257.0 L680.8,252.6 L682.6,243.9 L684.3,245.3 L686.1,241.0 L687.3,248.3 L688.4,249.7 L689.6,236.6 L690.8,242.4 L692.0,262.9 L693.1,239.5 L694.9,243.9 L696.6,249.7 L697.8,261.4 L699.0,268.7 L700.7,270.2 L701.9,262.9 L703.1,270.2 L705.4,269.6 L707.2,262.9 L709.5,263.8 L711.3,267.9 L713.6,269.6 L716.5,271.7 L718.9,268.7 L721.2,265.8 L723.0,271.7 L723.8,242.4 L724.7,271.7 L726.4,270.2 L727.6,261.4 L728.8,271.7 L731.1,275.5 L732.9,262.9 L734.7,270.2 L735.8,265.8 L737.0,273.1 L738.7,268.7 L739.9,273.1 L741.7,262.9 L743.4,265.8 L745.2,262.9 L746.9,264.9 L748.7,261.4 L750.4,262.9 L751.6,257.0 L752.8,254.1 L753.7,252.0" fill="none" stroke="#0d1934" stroke-width="1.6" stroke-linejoin="round"/>
<rect x="408" y="201.5" width="346.29999999999995" height="213.7" fill="none" stroke="#7f8798" stroke-width="1"/>
<line x1="408" y1="201.5" x2="408" y2="415.2" stroke="#454b5e" stroke-width="1.6"/>
<path d="M754.3,415.2 L408,415.2" fill="none" stroke="#4f6276" stroke-width="1.4"/>
<text x="461.55" y="429" font-size="10.6" fill="#111" font-weight="normal" text-anchor="start" textLength="23.3" lengthAdjust="spacingAndGlyphs" stroke="#111" stroke-width="0.5" >2010</text>
<text x="527.5500000000001" y="429" font-size="10.6" fill="#111" font-weight="normal" text-anchor="start" textLength="23.3" lengthAdjust="spacingAndGlyphs" stroke="#111" stroke-width="0.5" >2012</text>
<text x="593.35" y="429" font-size="10.6" fill="#111" font-weight="normal" text-anchor="start" textLength="23.3" lengthAdjust="spacingAndGlyphs" stroke="#111" stroke-width="0.5" >2014</text>
<text x="659.25" y="429" font-size="10.6" fill="#111" font-weight="normal" text-anchor="start" textLength="23.3" lengthAdjust="spacingAndGlyphs" stroke="#111" stroke-width="0.5" >2016</text>
<text x="725.0500000000001" y="429" font-size="10.6" fill="#111" font-weight="normal" text-anchor="start" textLength="23.3" lengthAdjust="spacingAndGlyphs" stroke="#111" stroke-width="0.5" >2018</text>
<rect x="392" y="432.6" width="384" height="10" fill="#ffffff"/>
<rect x="392" y="72" width="2.6" height="361" fill="#ffffff" opacity="0.35"/>
</g>
</svg>
</body></html>
